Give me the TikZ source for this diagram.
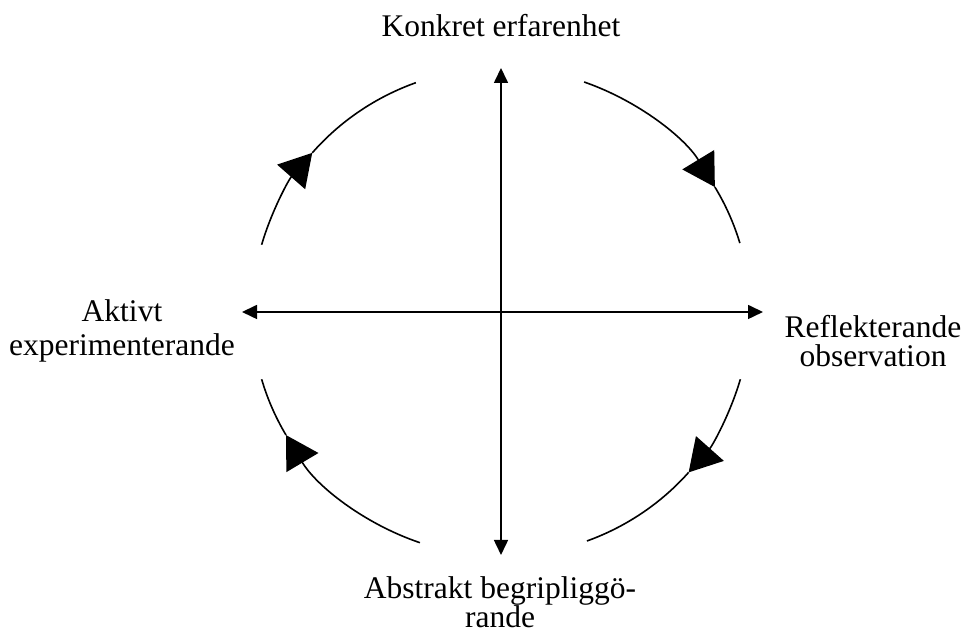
\documentclass[tikz,border=0pt]{standalone}
\usepackage{fontspec}
\setmainfont{Liberation Serif}
\usetikzlibrary{arrows.meta}
\begin{document}
\begin{tikzpicture}[x=0.5pt,y=0.5pt,
  lbl/.style={inner sep=0pt, align=center, font=\fontsize{15.75}{14.5}\selectfont},
  axis/.style={line width=0.8pt, {Triangle[length=7.5pt,width=7pt]}-{Triangle[length=7.5pt,width=7pt]}},
  cyc/.style={line width=0.8pt},
  cyctip/.style={line width=0.8pt, -{Triangle[length=16pt,width=18.5pt]}}]
\useasboundingbox (0,0) rectangle (965,635);
\coordinate (c) at (501,323);
% axes
\coordinate (ntip) at (501,567);
\coordinate (stip) at (501,80);
\coordinate (wtip) at (242,323);
\coordinate (etip) at (763,323);
\draw[axis] (wtip) -- (etip);
\draw[axis] (stip) -- (ntip);
% cycle arcs
\draw[cyctip] (c) ++(70.5:249 and 244) arc[start angle=70.5, end angle=30.8, x radius=249, y radius=244];
\draw[cyc] (c) ++(30.8:249 and 244) arc[start angle=30.8, end angle=16.4, x radius=249, y radius=244];
\draw[cyctip] (c) ++(-16:249 and 244) arc[start angle=-16, end angle=-41.1, x radius=249, y radius=244];
\draw[cyc] (c) ++(-41.1:249 and 244) arc[start angle=-41.1, end angle=-69.8, x radius=249, y radius=244];
\draw[cyctip] (c) ++(251:249 and 244) arc[start angle=251, end angle=210.3, x radius=249, y radius=244];
\draw[cyc] (c) ++(210.3:249 and 244) arc[start angle=210.3, end angle=196, x radius=249, y radius=244];
\draw[cyctip] (c) ++(164:249 and 244) arc[start angle=164, end angle=139.3, x radius=249, y radius=244];
\draw[cyc] (c) ++(139.3:249 and 244) arc[start angle=139.3, end angle=110, x radius=249, y radius=244];
% labels (base anchor = baseline of last line)
\node[lbl, anchor=base] (konkret) at (501,598) {Konkret erfarenhet};
\node[lbl, anchor=base] (refl) at (873,268) {Reflekterande\\observation};
\node[lbl, anchor=base, font=\fontsize{15.75}{17}\selectfont] (aktiv) at (122,279) {Aktivt\\experimenterande};
\node[lbl, anchor=base] (abstr) at (500,7) {Abstrakt begripliggö-\\rande};
\end{tikzpicture}
\end{document}
